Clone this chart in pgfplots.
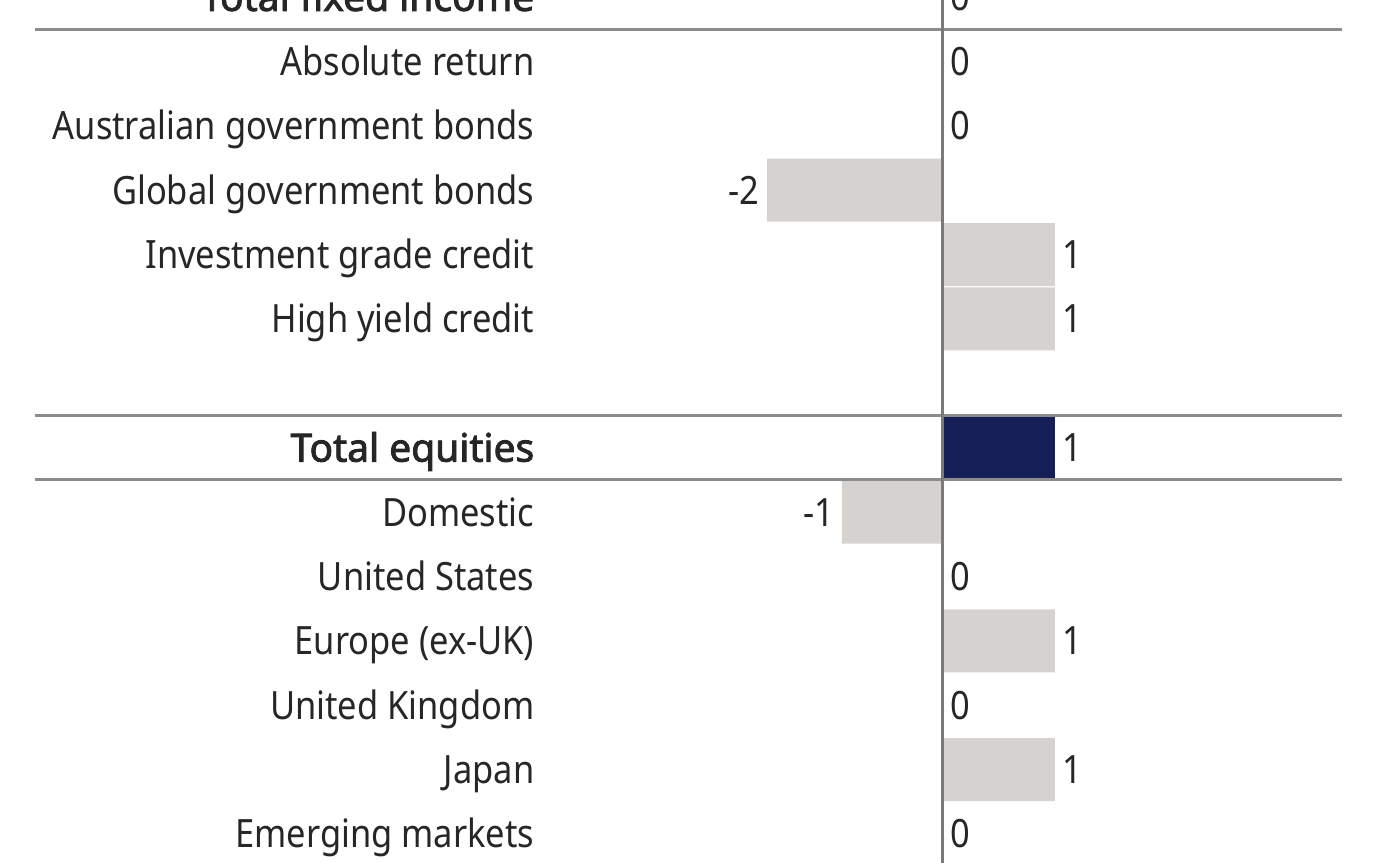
\documentclass[border=0pt]{standalone}
\usepackage{pgfplots}
\pgfplotsset{compat=1.18}
\usepackage{fontspec}
\setmainfont{Noto Sans}[FakeStretch=0.883]
\newfontfamily\boldf{Noto Sans}[FakeBold=2.2]
\definecolor{barg}{HTML}{D6D2CF}
\definecolor{navy}{HTML}{161F57}
\definecolor{rulec}{HTML}{8C8C8C}
\definecolor{axc}{HTML}{7A7A7A}
\definecolor{txt}{HTML}{262626}
\newcommand{\tb}[1]{{\boldf #1}}
\begin{document}
\begin{tikzpicture}
\begin{axis}[
  x=8.8mm, y=6.439mm, y dir=reverse,
  xmin=-10.716, xmax=4.966, ymin=-0.6, ymax=13.6,
  axis line style={draw=none},
  xtick=\empty,
  ytick={0,...,13},
  yticklabels={\tb{Total fixed income},Absolute return,Australian government bonds,Global government bonds,Investment grade credit,High yield credit,{},\tb{Total equities},Domestic,United States,Europe (ex-UK),United Kingdom,Japan,Emerging markets},
  major tick length=0pt,
  yticklabel style={anchor=base east, inner sep=0pt, xshift=53.5mm, yshift=-3.96pt, font=\fontsize{11.1}{13}\selectfont, text=txt},
  xbar, bar shift=0pt, bar width=6.3mm,
  nodes near coords={\pgfmathprintnumber[fixed,precision=0]{\pgfplotspointmeta}},
  nodes near coords align=horizontal,
  every node near coord/.append style={font=\fontsize{11.1}{13}\selectfont, text=txt, inner sep=0.7mm},
  /pgf/number format/assume math mode=true,
]
\addplot[fill=barg, draw=none] coordinates {(0,1) (0,2) (-2,3) (1.27,4) (1.27,5) (-1.15,8) (0,9) (1.27,10) (0,11) (1.27,12) (0,13)};
\addplot[fill=navy, draw=none, bar width=6.6mm] coordinates {(0,0) (1.27,7)};
\draw[rulec, line width=0.3mm] (axis cs:-10.318,0.5) -- (axis cs:4.534,0.5);
\draw[rulec, line width=0.3mm] (axis cs:-10.318,6.5) -- (axis cs:4.534,6.5);
\draw[rulec, line width=0.3mm] (axis cs:-10.318,7.5) -- (axis cs:4.534,7.5);
\draw[axc, line width=0.3mm] (axis cs:0,-1) -- (axis cs:0,14);
\coordinate (BL) at (axis cs:-10.716,13.449);
\coordinate (TR) at (axis cs:4.966,0.0466);
\end{axis}
\pgfresetboundingbox
\path (BL) rectangle (TR);
\end{tikzpicture}
\end{document}
